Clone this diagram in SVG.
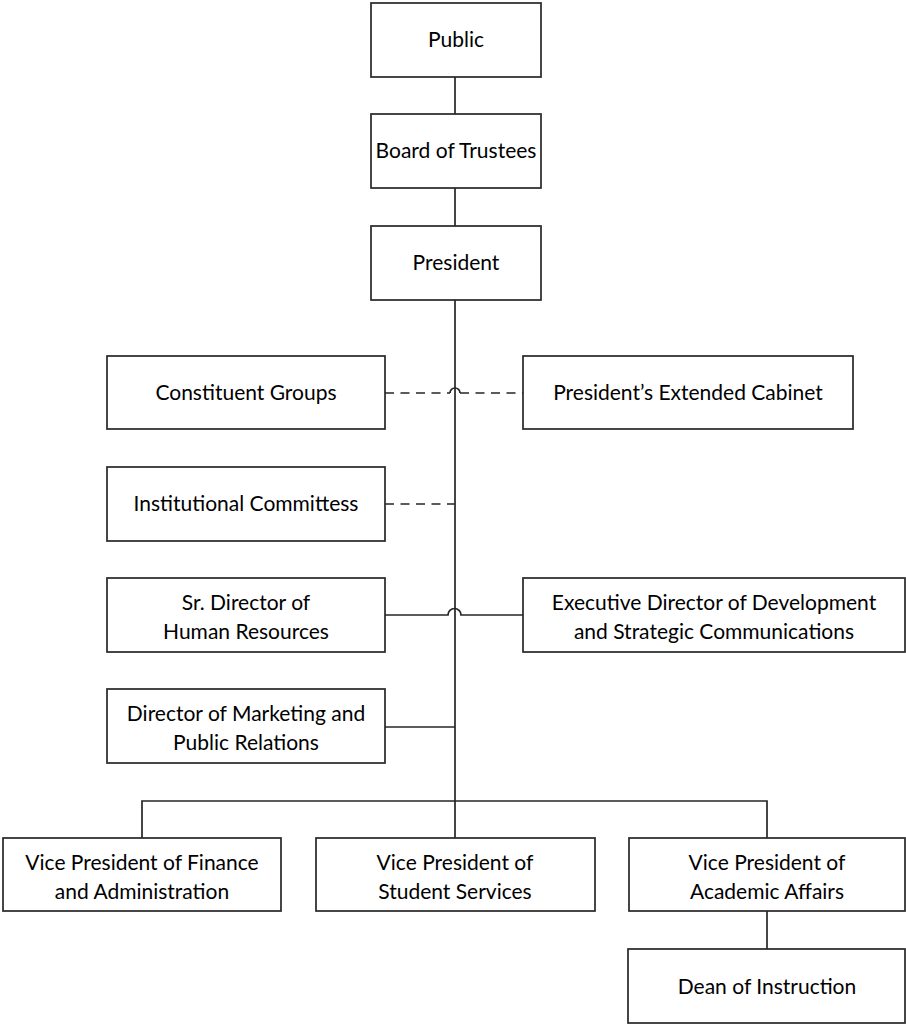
<svg xmlns="http://www.w3.org/2000/svg" width="906" height="1025" viewBox="0 0 906 1025">
<style>
.box{fill:#fff;stroke:#262626;stroke-width:1.7}
.ln{fill:none;stroke:#262626;stroke-width:1.7}
.dash{fill:none;stroke:#262626;stroke-width:1.7;stroke-dasharray:9 6.5}
text{font-family:Lato,"Noto Sans","Liberation Sans",sans-serif;font-size:21px;fill:#000;text-anchor:middle}
</style>
<rect width="906" height="1025" fill="#fff"/>
<g id="connectors">
<path class="ln" d="M455 77V114M455 188V226M455 300V801"/>
<path class="dash" d="M385 393H450M460 393H523"/>
<path class="ln" d="M450 393A5 5 0 0 1 460 393"/>
<path class="dash" d="M385 504H455"/>
<path class="ln" d="M385 615H448A6.5 6.5 0 0 1 461 615H523"/>
<path class="ln" d="M385 727H455"/>
<path class="ln" d="M142 838V801H767V838M455 801V838"/>
<path class="ln" d="M767 911V949"/>
</g>
<g id="public"><rect class="box" x="371" y="3" width="170" height="74"/><text x="456" y="47">Public</text></g>
<g id="board"><rect class="box" x="371" y="114" width="170" height="74"/><text x="456" y="158">Board of Trustees</text></g>
<g id="president"><rect class="box" x="371" y="226" width="170" height="74"/><text x="456" y="270">President</text></g>
<g id="constituent"><rect class="box" x="107" y="356" width="278" height="73"/><text x="246" y="400">Constituent Groups</text></g>
<g id="cabinet"><rect class="box" x="523" y="356" width="330" height="73"/><text x="688" y="400">President’s Extended Cabinet</text></g>
<g id="committees"><rect class="box" x="107" y="467" width="278" height="74"/><text x="246" y="511">Institutional Committess</text></g>
<g id="hr"><rect class="box" x="107" y="578" width="278" height="74"/><text x="246" y="610">Sr. Director of</text><text x="246" y="639">Human Resources</text></g>
<g id="development"><rect class="box" x="523" y="578" width="382" height="74"/><text x="714" y="610">Executive Director of Development</text><text x="714" y="639">and Strategic Communications</text></g>
<g id="marketing"><rect class="box" x="107" y="689" width="278" height="74"/><text x="246" y="721">Director of Marketing and</text><text x="246" y="750">Public Relations</text></g>
<g id="vpfinance"><rect class="box" x="3" y="838" width="278" height="73"/><text x="142" y="870">Vice President of Finance</text><text x="142" y="899">and Administration</text></g>
<g id="vpstudent"><rect class="box" x="316" y="838" width="279" height="73"/><text x="455" y="870">Vice President of</text><text x="455" y="899">Student Services</text></g>
<g id="vpacademic"><rect class="box" x="629" y="838" width="276" height="73"/><text x="767" y="870">Vice President of</text><text x="767" y="899">Academic Affairs</text></g>
<g id="dean"><rect class="box" x="628" y="949" width="277" height="74"/><text x="767" y="994">Dean of Instruction</text></g>
</svg>
